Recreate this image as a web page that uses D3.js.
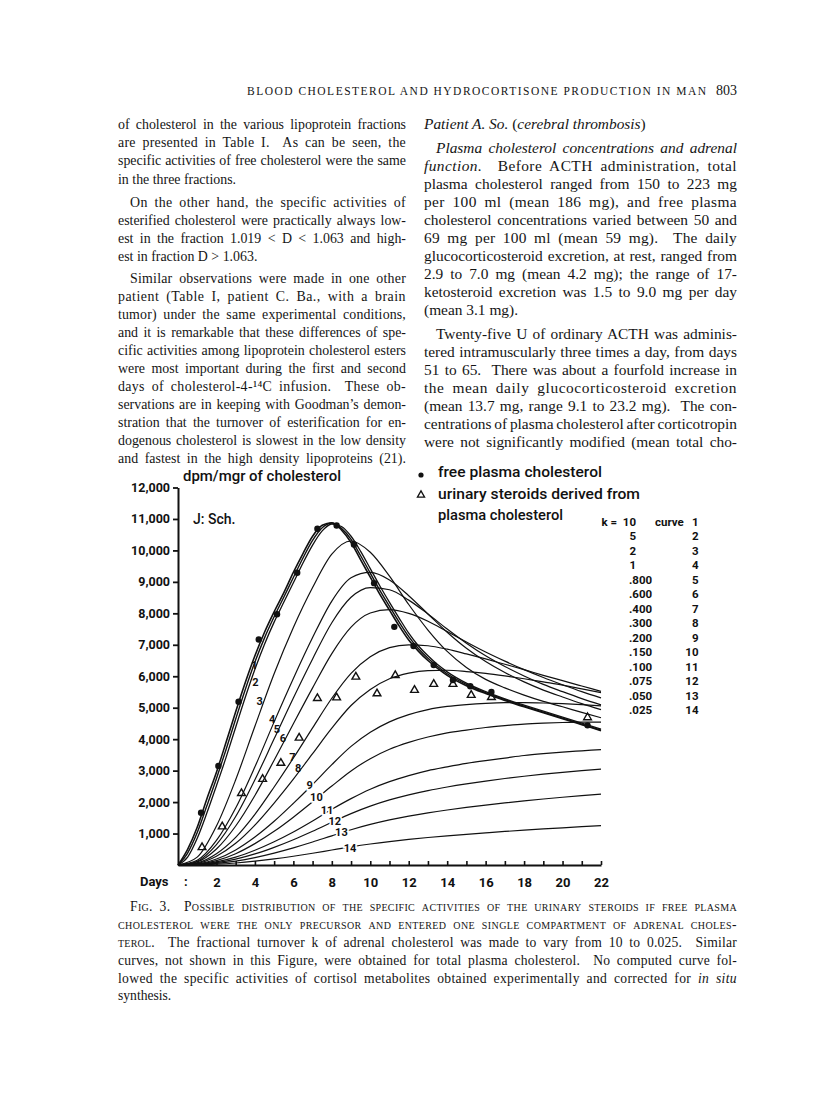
<!DOCTYPE html>
<html><head><meta charset="utf-8">
<script src="https://cdn.jsdelivr.net/npm/d3@7"></script>
<style>
body{margin:0;background:#fff;}
svg{display:block;}
.serif{font-family:"Liberation Serif","DejaVu Serif",serif;fill:#151515;}
.sans{font-family:Roboto,"DejaVu Sans",sans-serif;fill:#111;}
</style></head><body>
<svg id="page" width="816" height="1100"></svg>
<script>
// ---------- chart data ----------
const dayTicks = [1,2,3,4,5,6,7,8,9,10,11,12,13,14,15,16,17,18,19,20,21,22];
const valueTicks = [1000,2000,3000,4000,5000,6000,7000,8000,9000,10000,11000,12000];
const fastDays = [0,0.5,1,1.5,2,2.5,3,3.5,4,4.5,5,5.5,6,6.5,7,7.5,8,8.5,9,9.5,10,10.5,11,11.5,12,12.5,13,13.5,14,15,16,17,18,19,20,21,22];
const days = [0,1,2,3,4,5,6,7,8,9,10,11,12,13,14,15,16,17,18,19,20,21,22];

const plasmaFit = [0,500,1200,2100,2950,3900,4870,5800,6650,7400,8050,8650,9300,9900,10450,10800,10880,10650,10250,9700,9150,8600,8100,7600,7150,6800,6500,6250,6030,5700,5450,5230,5030,4840,4650,4460,4270];
const curve1 = [0,380,1030,1880,2750,3670,4640,5580,6450,7220,7890,8510,9140,9760,10320,10720,10870,10700,10350,9830,9280,8730,8220,7720,7260,6880,6570,6310,6080,5740,5480,5260,5050,4860,4670,4480,4290];
const curve2 = [0,250,850,1650,2520,3420,4380,5330,6220,7020,7720,8350,8970,9600,10170,10620,10840,10760,10450,9970,9420,8870,8350,7850,7370,6970,6650,6370,6140,5780,5510,5280,5080,4890,4700,4510,4320];
const curve3 = [0,250,1240,2710,4410,6080,7550,8820,9880,10300,9940,9180,8280,7470,6790,6280,5900,5630,5400,5200,5030,4850,4680];
const curve4 = [0,150,780,1810,3120,4550,5930,7230,8390,9130,9300,9060,8560,7980,7400,6890,6470,6120,5820,5560,5340,5130,4940];
const curve5 = [0,120,650,1540,2710,4010,5310,6550,7700,8510,8820,8750,8420,7980,7500,7050,6650,6310,6010,5740,5510,5290,5090];
const curve6 = [0,100,510,1240,2210,3330,4490,5630,6720,7560,8010,8120,8000,7750,7420,7090,6770,6480,6210,5960,5730,5510,5310];
const curve7 = [0,70,360,880,1610,2480,3400,4360,5300,6090,6620,6910,7000,6970,6860,6710,6550,6380,6210,6030,5860,5690,5520];
const curve8 = [0,50,280,690,1270,1970,2730,3540,4350,5070,5580,5920,6100,6180,6190,6150,6090,6010,5920,5820,5720,5600,5480];
const curve9 = [0,35,190,480,890,1390,1960,2560,3190,3770,4220,4550,4780,4940,5040,5100,5140,5160,5160,5150,5130,5100,5060];
const curve10 = [0,26,140,360,680,1070,1520,2010,2510,2990,3380,3680,3900,4070,4200,4290,4370,4430,4480,4510,4530,4540,4540];
const curve11 = [0,18,100,250,470,740,1050,1400,1770,2110,2410,2650,2840,3000,3120,3230,3320,3400,3480,3540,3590,3630,3670];
const curve12 = [0,13,73,186,352,562,804,1072,1358,1633,1870,2068,2230,2365,2479,2579,2668,2749,2822,2888,2947,2999,3045];
const curve13 = [0,9,49,125,237,380,546,730,928,1120,1289,1433,1554,1658,1749,1830,1905,1974,2038,2098,2153,2204,2250];
const curve14 = [0,5,25,64,121,194,279,374,477,578,668,746,814,874,927,976,1022,1066,1107,1146,1183,1218,1251];

const dotDays = [1.2,2.1,3.15,4.2,5.15,6.2,7.25,8.25,9.15,10.2,11.25,12.25,13.3,14.3,15.2,16.3,21.3];
const dotValues = [1660,3150,5190,7170,7970,9290,10690,10790,10190,8960,7570,6960,6360,5880,5680,5500,4440];
const triDays = [1.25,2.3,3.3,4.4,5.35,6.3,7.25,8.25,9.25,10.35,11.3,12.3,13.3,14.3,15.25,16.3,21.3];
const triValues = [560,1220,2280,2730,3240,4040,5300,5320,5980,5450,6030,5560,5750,5750,5400,5330,4690];

const kValues = ["10","5","2","1",".800",".600",".400",".300",".200",".150",".100",".075",".050",".025"];
const curveNumbers = [1,2,3,4,5,6,7,8,9,10,11,12,13,14];
const labelDays = [3.98,4.02,4.25,4.9,5.15,5.45,5.95,6.25,6.85,7.2,7.75,8.15,8.5,8.95];
const labelValues = [6350,5800,5190,4640,4320,4030,3420,3080,2540,2130,1720,1370,1020,510];

// ---------- page text ----------
const header = "BLOOD CHOLESTEROL AND HYDROCORTISONE PRODUCTION IN MAN";
const pageNumber = "803";
const leftColumn = [
 [118,129,1,[["of cholesterol in the various lipoprotein fractions"]]],
 [118,147,1,[["are presented in Table I.  As can be seen, the"]]],
 [118,165,1,[["specific activities of free cholesterol were the same"]]],
 [118,184,0,[["in the three fractions."]]],
 [130,207,1,[["On the other hand, the specific activities of"]]],
 [118,225,1,[["esterified cholesterol were practically always low-"]]],
 [118,243,1,[["est in the fraction 1.019 < D < 1.063 and high-"]]],
 [118,261,0,[["est in fraction D > 1.063."]]],
 [130,283,1,[["Similar observations were made in one other"]]],
 [118,301,1,[["patient (Table I, patient C. Ba., with a brain"]]],
 [118,319,1,[["tumor) under the same experimental conditions,"]]],
 [118,337,1,[["and it is remarkable that these differences of spe-"]]],
 [118,355,1,[["cific activities among lipoprotein cholesterol esters"]]],
 [118,373,1,[["were most important during the first and second"]]],
 [118,391,1,[["days of cholesterol-4-\u00b9\u2074C infusion.  These ob-"]]],
 [118,409,1,[["servations are in keeping with Goodman\u2019s demon-"]]],
 [118,427,1,[["stration that the turnover of esterification for en-"]]],
 [118,445,1,[["dogenous cholesterol is slowest in the low density"]]],
 [118,463,1,[["and fastest in the high density lipoproteins (21)."]]]
];
const rightColumn = [
 [424,129,0,[["Patient A. So. ","i"],["("],["cerebral thrombosis","i"],[")"]]],
 [436,153,1,[["Plasma cholesterol concentrations and adrenal","i"]]],
 [424,171,1,[["function.","i"],["  Before ACTH administration, total"]]],
 [424,189,1,[["plasma cholesterol ranged from 150 to 223 mg"]]],
 [424,207,1,[["per 100 ml (mean 186 mg), and free plasma"]]],
 [424,225,1,[["cholesterol concentrations varied between 50 and"]]],
 [424,243,1,[["69 mg per 100 ml (mean 59 mg).  The daily"]]],
 [424,261,1,[["glucocorticosteroid excretion, at rest, ranged from"]]],
 [424,279,1,[["2.9 to 7.0 mg (mean 4.2 mg); the range of 17-"]]],
 [424,297,1,[["ketosteroid excretion was 1.5 to 9.0 mg per day"]]],
 [424,315,0,[["(mean 3.1 mg)."]]],
 [436,339,1,[["Twenty-five U of ordinary ACTH was adminis-"]]],
 [424,357,1,[["tered intramuscularly three times a day, from days"]]],
 [424,375,1,[["51 to 65.  There was about a fourfold increase in"]]],
 [424,393,1,[["the mean daily glucocorticosteroid excretion"]]],
 [424,411,1,[["(mean 13.7 mg, range 9.1 to 23.2 mg).  The con-"]]],
 [424,429,1,[["centrations of plasma cholesterol after corticotropin"]]],
 [424,447,1,[["were not significantly modified (mean total cho-"]]]
];
const captionLines = [
 [130,911,1,[["Fig. 3.","sc"],["  "],["Possible distribution of the specific activities of the urinary steroids if free plasma","sc"]]],
 [118,929,1,[["cholesterol were the only precursor and entered one single compartment of adrenal choles-","sc"]]],
 [118,947,1,[["terol.","sc"],["  The fractional turnover k of adrenal cholesterol was made to vary from 10 to 0.025.  Similar"]]],
 [118,965,1,[["curves, not shown in this Figure, were obtained for total plasma cholesterol.  No computed curve fol-"]]],
 [118,983,1,[["lowed the specific activities of cortisol metabolites obtained experimentally and corrected for "],["in situ","i"]]],
 [118,1000,0,[["synthesis."]]]
];

// ---------- drawing ----------
const svg = d3.select("#page");
svg.append("rect").attr("width",816).attr("height",1100).attr("fill","#fff");

function drawLines(lines, size, rightEdge, cls, maxWs){
  lines.forEach(([lx,ly,just,segs])=>{
    const t = svg.append("text").attr("class",cls).attr("x",lx).attr("y",ly)
      .attr("font-size",size).style("white-space","pre");
    segs.forEach(s=>{
      const ts = t.append("tspan").text(s[0]);
      if(s[1]==="i") ts.attr("font-style","italic");
      if(s[1]==="sc") ts.style("font-variant","small-caps");
    });
    if(just){
      const target = rightEdge - lx;
      const natural = t.node().getComputedTextLength();
      const full = segs.map(s=>s[0]).join("");
      const spaces = (full.match(/ /g)||[]).length;
      const extra = target - natural;
      if(extra < -spaces*1.2){
        t.attr("textLength",target).attr("lengthAdjust","spacingAndGlyphs");
      } else {
        let ws = spaces ? extra/spaces : 0;
        let ls = 0;
        if(ws > maxWs){ ws = maxWs; ls = (extra - ws*spaces)/full.length; }
        t.style("word-spacing", ws+"px").style("letter-spacing", ls+"px");
      }
    }
  });
}
svg.append("text").attr("class","serif").attr("x",247).attr("y",95).attr("font-size",11.5)
  .attr("textLength",459).attr("lengthAdjust","spacing").text(header);
svg.append("text").attr("class","serif").attr("x",737).attr("y",95).attr("font-size",14)
  .attr("text-anchor","end").text(pageNumber);
drawLines(leftColumn,13.9,406,"serif",3);
drawLines(rightColumn,15.4,737,"serif",3.5);
drawLines(captionLines,13.6,737,"serif",3);

// chart
const x = d3.scaleLinear().domain([0,22]).range([178,601]);
const y = d3.scaleLinear().domain([0,12000]).range([865,487.5]);
const chart = svg.append("g");

const yAxis = chart.append("g").attr("transform",`translate(${x(0)},0)`)
  .call(d3.axisLeft(y).tickValues(valueTicks).tickSize(5).tickSizeOuter(0).tickPadding(3).tickFormat(d3.format(",")));
yAxis.select(".domain").attr("stroke","#111").attr("stroke-width",2);
yAxis.selectAll(".tick line").attr("stroke","#111").attr("stroke-width",1.8);
yAxis.selectAll(".tick text").attr("class","sans").attr("font-size",12.5).attr("font-weight",700).attr("fill","#111");

const xAxis = chart.append("g").attr("transform",`translate(0,${y(0)})`)
  .call(d3.axisBottom(x).tickValues(dayTicks).tickSizeInner(-4).tickSizeOuter(0).tickPadding(13)
     .tickFormat(d=> d%2===0 ? d : ""));
xAxis.select(".domain").attr("stroke","#111").attr("stroke-width",2);
xAxis.selectAll(".tick line").attr("stroke","#111").attr("stroke-width",1.6);
xAxis.selectAll(".tick text").attr("class","sans").attr("font-size",13).attr("font-weight",700).attr("fill","#111");

chart.append("text").attr("class","sans").attr("x",140).attr("y",886).attr("font-size",13).attr("font-weight",700).text("Days");
chart.append("text").attr("class","sans").attr("x",184).attr("y",886).attr("font-size",13).attr("font-weight",700).text(":");

// curves
const series = [
  [fastDays,plasmaFit,1.6],[fastDays,curve1,1.4],[fastDays,curve2,1.3],
  [days,curve3,1.2],[days,curve4,1.2],[days,curve5,1.2],[days,curve6,1.2],[days,curve7,1.2],
  [days,curve8,1.2],[days,curve9,1.2],[days,curve10,1.2],[days,curve11,1.2],[days,curve12,1.2],
  [days,curve13,1.2],[days,curve14,1.2]
];
const line = d3.line().x(d=>x(d[0])).y(d=>y(d[1])).curve(d3.curveMonotoneX);
chart.append("g").selectAll("path").data(series).join("path")
  .attr("d",s=>line(s[0].map((d,i)=>[d,s[1][i]])))
  .attr("fill","none").attr("stroke","#111").attr("stroke-width",s=>s[2]);

// curve labels
chart.append("g").selectAll("text").data(curveNumbers).join("text")
  .attr("class","sans").attr("x",(d,i)=>x(labelDays[i])).attr("y",(d,i)=>y(labelValues[i]))
  .attr("text-anchor","middle").attr("dominant-baseline","central")
  .attr("font-size",11).attr("font-weight",700)
  .attr("stroke",(d)=> d>=9 ? "#fff" : "none").attr("stroke-width",3.5).attr("paint-order","stroke")
  .text(d=>d);

// markers
chart.append("g").selectAll("path").data(triDays).join("path")
  .attr("transform",(d,i)=>`translate(${x(d)},${y(triValues[i])})`)
  .attr("d",d3.symbol().type(d3.symbolTriangle).size(26)())
  .attr("fill","none").attr("stroke","#111").attr("stroke-width",1.4);
chart.append("g").selectAll("circle").data(dotDays).join("circle")
  .attr("cx",d=>x(d)).attr("cy",(d,i)=>y(dotValues[i])).attr("r",3.2).attr("fill","#111");

// axis title & patient
chart.append("text").attr("class","sans").attr("x",183).attr("y",481).attr("font-size",14).attr("font-weight",500)
  .attr("textLength",158).attr("lengthAdjust","spacingAndGlyphs").text("dpm/mgr of cholesterol");
chart.append("text").attr("class","sans").attr("x",193).attr("y",524).attr("font-size",14).attr("font-weight",500)
  .text("J: Sch.");

// legend
chart.append("circle").attr("cx",421).attr("cy",475).attr("r",2.6).attr("fill","#111");
chart.append("text").attr("class","sans").attr("x",438).attr("y",477).attr("font-size",14).attr("font-weight",500)
  .attr("textLength",164).attr("lengthAdjust","spacingAndGlyphs").text("free plasma cholesterol");
chart.append("path").attr("transform","translate(421,495)").attr("d",d3.symbol().type(d3.symbolTriangle).size(22)())
  .attr("fill","none").attr("stroke","#111").attr("stroke-width",1.3);
chart.append("text").attr("class","sans").attr("x",438).attr("y",499).attr("font-size",14).attr("font-weight",500)
  .attr("textLength",202).attr("lengthAdjust","spacingAndGlyphs").text("urinary steroids derived from");
chart.append("text").attr("class","sans").attr("x",438).attr("y",520).attr("font-size",14).attr("font-weight",500)
  .attr("textLength",125).attr("lengthAdjust","spacingAndGlyphs").text("plasma cholesterol");

// k table
const kt = chart.append("g").attr("class","sans").attr("font-size",11.5).attr("font-weight",700);
kt.append("text").attr("x",601.5).attr("y",526).text("k =");
kt.append("text").attr("x",655).attr("y",526).text("curve");
kt.selectAll("text.kv").data(kValues).join("text").attr("class","kv")
  .attr("x",d=> d.startsWith(".") ? 629 : 636).attr("text-anchor",d=> d.startsWith(".") ? "start" : "end")
  .attr("y",(d,i)=>526+i*14.46).text(d=>d);
kt.selectAll("text.cn").data(curveNumbers).join("text").attr("class","cn")
  .attr("x",698.5).attr("text-anchor","end").attr("y",(d,i)=>526+i*14.46).text(d=>d);
</script>
</body></html>
